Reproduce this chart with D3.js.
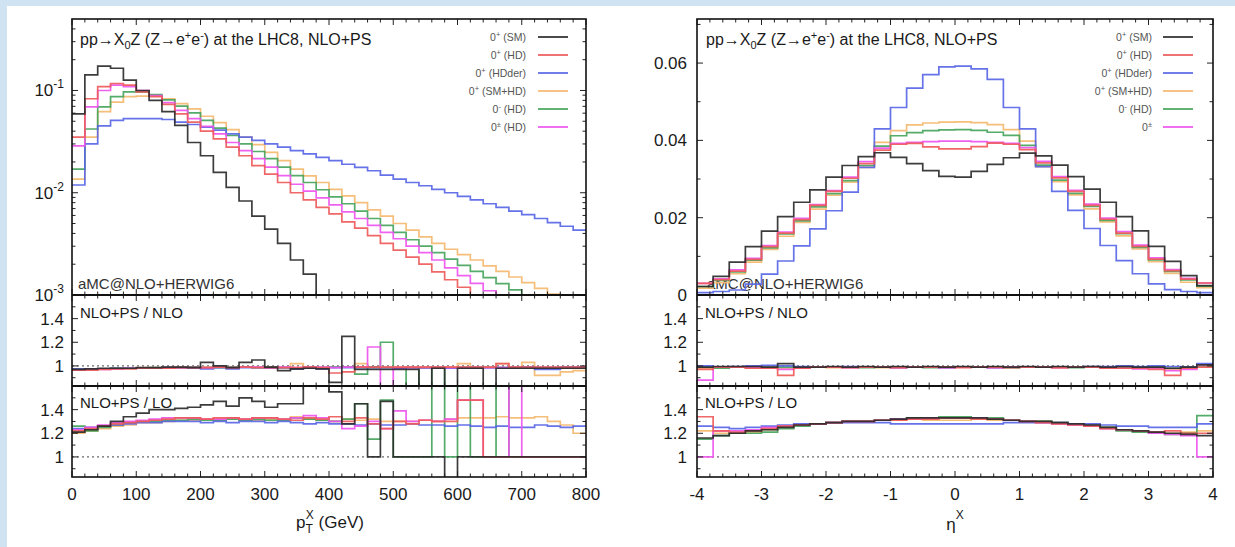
<!DOCTYPE html>
<html>
<head>
<meta charset="utf-8">
<script src="https://cdn.jsdelivr.net/npm/d3@7"></script>
<style>
  body { margin: 0; background: #fff; }
  svg { display: block; }
  text { font-family: "Liberation Sans", Arial, Helvetica, sans-serif; fill: #1a1a1a; }
</style>
</head>
<body>
<svg id="chart" width="1235" height="547"></svg>
<script>
// ---------- binning ----------
const ptEdges = d3.range(0, 820, 20);                        // GeV, 40 bins
const etaEdges = d3.range(0, 33).map(i => -4 + i * 0.25);    // 32 bins

// ---------- sample names / colours ----------
const seriesKeys = ["sm", "hd", "hdder", "smhd", "minus", "mixed"];
const seriesColors = {
  sm: "#2b2b2b", hd: "#ee5a5a", hdder: "#5866e6",
  smhd: "#f5b870", minus: "#46a45c", mixed: "#ee55ee"
};
const legendLeft  = [["0","+"," (SM)"],["0","+"," (HD)"],["0","+"," (HDder)"],["0","+"," (SM+HD)"],["0","-"," (HD)"],["0","±"," (HD)"]];
const legendRight = [["0","+"," (SM)"],["0","+"," (HD)"],["0","+"," (HDder)"],["0","+"," (SM+HD)"],["0","-"," (HD)"],["0","±",""]];
const drawOrder = ["smhd", "minus", "hdder", "mixed", "hd", "sm"];

// ---------- pT^X distribution (NLO+PS), per 20 GeV bin ----------
const ptSM    = [0.059,0.142,0.173,0.165,0.126,0.100,0.080,0.062,0.0455,0.031,0.023,0.0158,0.0113,0.0083,0.0059,0.0044,0.0032,0.0022,0.0016,0.00092,0.00070,0.00052,0.00040,0.00030,0.00022,0.00016,0.00012,0.00009,0.00007,0.00005,0.00004,0.00003,0.00002,0.000015,0.00001,0.000008,0.000006,0.000005,0.000004,0.000003];
const ptHD    = [0.035,0.083,0.109,0.117,0.113,0.097,0.087,0.073,0.059,0.049,0.040,0.0336,0.0279,0.023,0.0184,0.0152,0.0126,0.0100,0.0085,0.0072,0.0062,0.0052,0.0045,0.0038,0.0032,0.00275,0.00235,0.0020,0.00168,0.00141,0.00119,0.00098,0.00083,0.0007,0.0006,0.0005,0.00042,0.00035,0.0003,0.00025];
const ptHDder = [0.0119,0.030,0.045,0.051,0.053,0.053,0.053,0.052,0.049,0.0465,0.0437,0.0409,0.0376,0.035,0.0325,0.0301,0.0279,0.0258,0.024,0.0222,0.0206,0.019,0.0177,0.0164,0.0149,0.0136,0.0126,0.0117,0.0108,0.0100,0.0092,0.0085,0.0078,0.0072,0.0066,0.0061,0.0056,0.0051,0.0047,0.0043];
const ptSMHD  = [0.0136,0.035,0.062,0.077,0.087,0.088,0.0885,0.083,0.0745,0.066,0.056,0.0485,0.0415,0.035,0.0295,0.0248,0.0206,0.017,0.0146,0.0126,0.0108,0.0093,0.0080,0.0068,0.0059,0.0050,0.0043,0.0037,0.0032,0.0028,0.00248,0.0022,0.00193,0.0017,0.0015,0.00132,0.00116,0.00102,0.0009,0.0008];
const ptMinus = [0.017,0.042,0.069,0.087,0.097,0.097,0.091,0.081,0.0704,0.0605,0.051,0.0429,0.0363,0.030,0.0253,0.0216,0.0178,0.0147,0.0126,0.0107,0.0091,0.0078,0.0066,0.0056,0.0048,0.0041,0.00347,0.0030,0.0026,0.00224,0.00195,0.0017,0.00148,0.00129,0.00112,0.00098,0.00085,0.00074,0.00064,0.00056];
const ptMixed = [0.0287,0.069,0.100,0.113,0.109,0.100,0.089,0.076,0.064,0.053,0.0445,0.0376,0.031,0.0258,0.0216,0.0178,0.0147,0.0121,0.01035,0.0089,0.0076,0.0065,0.0056,0.0048,0.0041,0.00355,0.0030,0.0026,0.0022,0.00184,0.00155,0.0013,0.0011,0.00092,0.00077,0.00065,0.00055,0.00046,0.00039,0.00033];

// ---------- pT^X ratio NLO+PS / NLO ----------
const ptNloSM    = [0.97,0.975,0.98,0.98,0.98,0.985,0.985,0.99,0.99,0.985,1.03,1.00,0.985,1.03,1.05,0.99,0.96,0.975,0.98,0.975,0.86,1.25,0.97,0.97,0.97,0.97,0.97,0,0.98,0,0.98,0.98,0,0.98,0.98,0.98,0.98,0.98,0.98,0.98];
const ptNloHD    = [0.965,0.965,0.97,0.975,0.975,0.98,0.98,0.98,0.985,0.985,0.985,0.99,0.985,0.99,0.985,0.985,0.985,0.985,0.99,0.985,0.94,0.95,0.99,0.99,0.99,0.99,0.99,0.99,0.99,0.99,0.99,0.99,0.99,1.02,0.99,0.99,0.99,0.99,0.99,0.99];
const ptNloHDder = [0.975,0.975,0.975,0.98,0.98,0.98,0.98,0.985,0.985,0.985,0.975,0.985,0.975,0.985,0.985,0.98,0.985,0.975,0.98,0.975,0.985,0.985,0.985,0.985,0.985,0.98,0.985,0.985,0.985,0.98,0.985,0.985,0.985,0.985,0.985,0.99,0.97,0.97,0.99,0.99];
const ptNloSMHD  = [0.97,0.975,0.975,0.98,0.98,0.985,0.985,0.985,0.99,0.99,0.99,0.99,0.985,0.99,0.99,0.99,0.985,1.02,0.98,0.98,0.99,0.99,1.02,0.99,0.99,0.99,0.99,0.99,0.99,0.99,1.02,0.99,0.99,1.02,0.99,1.03,0.92,0.92,0.95,0.96];
const ptNloMinus = [0.97,0.97,0.975,0.98,0.98,0.98,0.985,0.985,0.985,0.99,0.985,0.985,0.99,0.99,0.985,0.99,0.985,0.975,0.99,0.985,0.99,0.99,0.93,0.99,1.20,0.98,0,0.98,0,0.98,0.985,0.985,0.985,0.985,0.985,0.985,0.985,0.985,0.985,0.985];
const ptNloMixed = [0.965,0.97,0.97,0.975,0.98,0.98,0.98,0.985,0.985,0.985,0.985,0.99,0.985,0.99,0.99,0.985,0.99,0.985,0.99,0.99,0.985,0.99,0.99,1.16,0,0.985,0.985,0.985,0.985,0.985,0.985,0.985,0.985,0.985,0.985,0.985,0.985,0.985,0.985,0.985];

// ---------- pT^X ratio NLO+PS / LO ----------
const ptLoSM    = [1.21,1.23,1.26,1.30,1.34,1.37,1.40,1.40,1.41,1.42,1.44,1.47,1.43,1.50,1.47,1.42,1.45,1.45,1.65,1.62,1.55,1.28,1.45,1.00,1.47,1.00,1.00,1.00,1.00,0.00,1.00,1.00,1.00,1.00,1.00,1.00,1.00,1.00,1.00,1.00];
const ptLoHD    = [1.22,1.24,1.26,1.28,1.29,1.30,1.31,1.32,1.33,1.33,1.32,1.33,1.33,1.32,1.33,1.33,1.32,1.31,1.33,1.32,1.34,1.30,1.33,1.28,1.24,1.30,1.28,1.31,1.30,1.30,1.48,1.48,1.00,1.00,1.00,1.00,1.00,1.00,1.00,1.00];
const ptLoHDder = [1.24,1.25,1.26,1.27,1.28,1.29,1.29,1.30,1.30,1.30,1.29,1.30,1.29,1.30,1.30,1.29,1.30,1.29,1.28,1.29,1.28,1.28,1.27,1.28,1.27,1.27,1.28,1.27,1.27,1.26,1.27,1.26,1.25,1.26,1.25,1.25,1.27,1.26,1.25,1.26];
const ptLoSMHD  = [1.20,1.22,1.24,1.26,1.27,1.29,1.29,1.30,1.31,1.31,1.32,1.31,1.32,1.31,1.31,1.32,1.31,1.34,1.32,1.31,1.30,1.32,1.31,1.32,1.30,1.30,1.30,1.31,1.30,1.32,1.33,1.33,1.33,1.34,1.33,1.33,1.34,1.30,1.27,1.20];
const ptLoMinus = [1.26,1.22,1.25,1.27,1.29,1.30,1.30,1.31,1.31,1.32,1.31,1.31,1.32,1.31,1.32,1.31,1.31,1.33,1.32,1.31,1.30,1.32,1.45,1.15,1.48,1.00,1.00,1.00,1.65,1.00,1.65,1.00,1.00,1.65,1.00,1.00,1.00,1.00,1.00,1.00];
const ptLoMixed = [1.23,1.25,1.27,1.29,1.30,1.31,1.32,1.33,1.33,1.33,1.32,1.32,1.33,1.32,1.33,1.33,1.32,1.33,1.35,1.33,1.30,1.24,1.26,1.30,1.24,1.39,1.30,1.31,1.30,1.32,1.48,1.48,1.00,1.00,1.65,1.00,1.00,1.00,1.00,1.00];

// ---------- eta^X distribution (NLO+PS), per 0.25 bin ----------
const etaSM    = [0.0022,0.0048,0.0085,0.0125,0.0165,0.0203,0.0240,0.0272,0.0305,0.0335,0.0358,0.0368,0.0356,0.0340,0.0322,0.0307,0.0305,0.0320,0.0338,0.0355,0.0367,0.0360,0.0336,0.0306,0.0274,0.0240,0.0203,0.0166,0.0126,0.0087,0.0050,0.0024];
const etaHD    = [0.0030,0.0040,0.0062,0.0092,0.0125,0.0160,0.0195,0.0232,0.0268,0.0302,0.0340,0.0375,0.0390,0.0392,0.0383,0.0378,0.0378,0.0384,0.0393,0.0390,0.0376,0.0342,0.0303,0.0268,0.0232,0.0196,0.0160,0.0126,0.0093,0.0063,0.0041,0.0031];
const etaHDder = [0.0006,0.0009,0.0013,0.0028,0.0054,0.0088,0.0127,0.0171,0.0218,0.0266,0.0330,0.0430,0.0485,0.0535,0.0570,0.0590,0.0592,0.0585,0.0558,0.0485,0.0430,0.0332,0.0268,0.0219,0.0172,0.0128,0.0089,0.0055,0.0029,0.0014,0.0009,0.0006];
const etaSMHD  = [0.0018,0.0032,0.0055,0.0085,0.0118,0.0152,0.0188,0.0222,0.0258,0.0292,0.0330,0.0395,0.0425,0.0440,0.0445,0.0447,0.0448,0.0446,0.0441,0.0428,0.0398,0.0332,0.0293,0.0259,0.0223,0.0189,0.0153,0.0119,0.0086,0.0056,0.0033,0.0019];
const etaMinus = [0.0022,0.0038,0.0060,0.0090,0.0122,0.0158,0.0192,0.0228,0.0262,0.0296,0.0335,0.0385,0.0412,0.0420,0.0425,0.0427,0.0428,0.0426,0.0421,0.0413,0.0387,0.0336,0.0297,0.0263,0.0229,0.0193,0.0159,0.0123,0.0091,0.0061,0.0039,0.0023];
const etaMixed = [0.0030,0.0042,0.0065,0.0095,0.0128,0.0163,0.0198,0.0234,0.0270,0.0305,0.0345,0.0380,0.0392,0.0395,0.0397,0.0398,0.0398,0.0397,0.0395,0.0392,0.0381,0.0346,0.0306,0.0271,0.0235,0.0199,0.0164,0.0129,0.0096,0.0066,0.0043,0.0031];

// ---------- eta^X ratio NLO+PS / NLO ----------
const etaNloSM    = [0.99,0.995,0.995,0.995,0.99,1.02,0.99,0.99,0.995,0.99,0.995,0.99,0.995,0.99,0.995,0.99,0.995,0.99,0.995,0.99,0.995,0.99,0.995,0.99,0.995,0.99,0.995,0.99,0.99,0.98,0.99,1.01];
const etaNloHD    = [0.97,0.99,0.99,0.98,0.98,0.92,0.98,0.99,0.99,0.985,0.99,0.99,0.985,0.99,0.99,0.99,0.985,0.99,0.99,0.985,0.99,0.99,0.985,0.99,0.99,0.98,0.98,0.98,0.97,0.92,0.98,0.99];
const etaNloHDder = [1.00,0.99,0.995,1.00,1.005,1.00,0.995,0.99,0.99,0.995,0.99,0.99,0.985,0.99,0.99,0.985,0.99,0.99,0.985,0.99,0.99,0.99,0.99,0.99,0.995,0.995,1.00,0.995,1.00,0.995,0.99,1.02];
const etaNloSMHD  = [0.98,0.99,0.99,0.98,0.99,0.98,0.99,0.99,0.985,0.99,0.99,0.985,0.99,0.99,0.99,0.985,0.99,0.99,0.985,0.99,0.99,0.99,0.985,0.99,0.99,0.985,0.99,0.98,0.99,0.97,0.99,1.00];
const etaNloMinus = [0.99,0.98,0.99,0.99,0.985,0.99,0.98,0.99,0.99,0.99,0.985,0.99,0.99,0.99,0.985,0.99,0.99,0.99,0.99,0.985,0.99,0.99,0.99,0.985,0.99,0.99,0.985,0.99,0.99,0.98,0.99,1.00];
const etaNloMixed = [0.88,0.99,0.99,0.99,0.98,0.97,0.98,0.99,0.99,0.985,0.99,0.99,0.985,0.99,0.99,0.985,0.99,0.99,0.985,0.99,0.99,0.99,0.985,0.99,0.99,0.985,0.98,0.975,0.98,0.96,0.97,1.01];

// ---------- eta^X ratio NLO+PS / LO ----------
const etaLoSM    = [1.16,1.18,1.20,1.22,1.23,1.25,1.27,1.28,1.29,1.30,1.30,1.31,1.32,1.33,1.33,1.33,1.33,1.33,1.32,1.31,1.30,1.30,1.29,1.28,1.27,1.25,1.23,1.22,1.21,1.20,1.19,1.18];
const etaLoHD    = [1.34,1.22,1.21,1.22,1.24,1.26,1.27,1.28,1.29,1.30,1.30,1.31,1.31,1.32,1.32,1.33,1.33,1.32,1.32,1.31,1.30,1.29,1.28,1.27,1.26,1.24,1.23,1.22,1.21,1.22,1.20,1.20];
const etaLoHDder = [1.26,1.25,1.24,1.25,1.26,1.27,1.28,1.28,1.29,1.29,1.29,1.29,1.28,1.28,1.28,1.28,1.28,1.28,1.28,1.29,1.29,1.29,1.29,1.28,1.28,1.27,1.26,1.26,1.25,1.25,1.25,1.28];
const etaLoSMHD  = [1.22,1.20,1.20,1.21,1.23,1.25,1.27,1.28,1.29,1.30,1.30,1.31,1.31,1.32,1.31,1.31,1.31,1.32,1.31,1.31,1.30,1.30,1.29,1.28,1.27,1.25,1.23,1.22,1.21,1.20,1.21,1.22];
const etaLoMinus = [1.15,1.18,1.20,1.20,1.21,1.24,1.26,1.28,1.29,1.30,1.30,1.31,1.32,1.33,1.33,1.34,1.34,1.33,1.33,1.31,1.30,1.30,1.29,1.28,1.27,1.25,1.22,1.21,1.20,1.19,1.20,1.35];
const etaLoMixed = [1.00,1.22,1.22,1.23,1.25,1.26,1.27,1.28,1.29,1.30,1.30,1.31,1.32,1.32,1.33,1.33,1.33,1.33,1.32,1.31,1.30,1.29,1.28,1.27,1.26,1.24,1.23,1.22,1.20,1.19,1.18,1.00];

// ---------- tick labels ----------
const ptTickLabels  = [0, 100, 200, 300, 400, 500, 600, 700, 800];
const etaTickLabels = [-4, -3, -2, -1, 0, 1, 2, 3, 4];
const logTickLabels = [["10","-1",0.1],["10","-2",0.01],["10","-3",0.001]];
const linTickLabels = [["0.06",0.06],["0.04",0.04],["0.02",0.02],["0",0]];
const ratioTickLabels = [["1.4",1.4],["1.2",1.2],["1",1.0]];

// ---------- layout ----------
const svg = d3.select("#chart");
const yMainTop = 19, yMainBot = 295, yNloBot = 386, yLoBot = 477;
const ratioDomain = [0.83, 1.6];

svg.append("rect").attr("width", 1235).attr("height", 547).attr("fill", "#ffffff");
svg.append("rect").attr("x", 0).attr("y", 0).attr("width", 7).attr("height", 547).attr("fill", "#cfe3f3");
svg.append("rect").attr("x", 0).attr("y", 0).attr("width", 1235).attr("height", 6).attr("fill", "#cfe3f3");

let clipCount = 0;
function stepPath(xs, ys, edges, vals) {
  const pts = vals.map((v, i) => [edges[i], v]);
  pts.push([edges[edges.length - 1], vals[vals.length - 1]]);
  return d3.line()
    .x(d => xs(d[0]))
    .y(d => { const y = ys(d[1]); return isFinite(y) ? y : ys.range()[0] + 50; })
    .curve(d3.curveStepAfter)(pts);
}

function drawSeries(xs, ys, edges, dataMap) {
  const id = "clip" + (clipCount++);
  const [xa, xb] = xs.range(), [ya, yb] = ys.range();
  svg.append("clipPath").attr("id", id).append("rect")
    .attr("x", xa).attr("y", Math.min(ya, yb)).attr("width", xb - xa).attr("height", Math.abs(ya - yb));
  const g = svg.append("g").attr("clip-path", `url(#${id})`);
  drawOrder.forEach(k => {
    g.append("path").attr("d", stepPath(xs, ys, edges, dataMap[k]))
      .attr("fill", "none").attr("stroke", seriesColors[k])
      .attr("stroke-width", 1.7).attr("stroke-opacity", 0.92)
      .attr("stroke-linejoin", "miter");
  });
}

function ticks(xs, ys, xMaj, xMin, yMaj, yMin) {
  const g = svg.append("g").attr("stroke", "#222").attr("stroke-width", 1);
  const [xa, xb] = xs.range(), [yb, ya] = ys.range(); // yb bottom, ya top
  const L = 6, l = 3.5;
  xMaj.forEach(v => { const x = xs(v);
    g.append("line").attr("x1", x).attr("x2", x).attr("y1", yb).attr("y2", yb - L);
    g.append("line").attr("x1", x).attr("x2", x).attr("y1", ya).attr("y2", ya + L); });
  xMin.forEach(v => { const x = xs(v);
    g.append("line").attr("x1", x).attr("x2", x).attr("y1", yb).attr("y2", yb - l);
    g.append("line").attr("x1", x).attr("x2", x).attr("y1", ya).attr("y2", ya + l); });
  yMaj.forEach(v => { const y = ys(v);
    g.append("line").attr("x1", xa).attr("x2", xa + L).attr("y1", y).attr("y2", y);
    g.append("line").attr("x1", xb).attr("x2", xb - L).attr("y1", y).attr("y2", y); });
  yMin.forEach(v => { const y = ys(v);
    g.append("line").attr("x1", xa).attr("x2", xa + l).attr("y1", y).attr("y2", y);
    g.append("line").attr("x1", xb).attr("x2", xb - l).attr("y1", y).attr("y2", y); });
}

function unitLine(xs, ys) {
  svg.append("line").attr("x1", xs.range()[0]).attr("x2", xs.range()[1])
    .attr("y1", ys(1)).attr("y2", ys(1))
    .attr("stroke", "#444").attr("stroke-width", 1).attr("stroke-dasharray", "2,3");
}

function frame(x0, x1) {
  svg.append("rect").attr("x", x0).attr("y", yMainTop).attr("width", x1 - x0).attr("height", yLoBot - yMainTop)
    .attr("fill", "none").attr("stroke", "#111").attr("stroke-width", 1.6);
  [yMainBot, yNloBot].forEach(y => svg.append("line").attr("x1", x0).attr("x2", x1)
    .attr("y1", y).attr("y2", y).attr("stroke", "#111").attr("stroke-width", 2.2));
}

function title(x) {
  const t = svg.append("text").attr("x", x).attr("y", 45).attr("font-size", 16);
  t.append("tspan").text("pp→X");
  t.append("tspan").attr("font-size", 11).attr("dy", 4).text("0");
  t.append("tspan").attr("dy", -4).text("Z (Z→e");
  t.append("tspan").attr("font-size", 11).attr("dy", -6).text("+");
  t.append("tspan").attr("dy", 6).text("e");
  t.append("tspan").attr("font-size", 11).attr("dy", -6).text("-");
  t.append("tspan").attr("dy", 6).text(") at the LHC8, NLO+PS");
}

function legend(xText, xLine0, xLine1, entries) {
  const rows = [37, 55, 73, 91, 109, 127];
  entries.forEach((e, i) => {
    const k = seriesKeys[i];
    const t = svg.append("text").attr("x", xText).attr("y", rows[i] + 3.5)
      .attr("font-size", 10.5).attr("text-anchor", "end").style("fill", "#555");
    t.append("tspan").text(e[0]);
    t.append("tspan").attr("font-size", 7.5).attr("dy", -4).text(e[1]);
    t.append("tspan").attr("dy", 4).text(e[2]);
    svg.append("line").attr("x1", xLine0).attr("x2", xLine1).attr("y1", rows[i]).attr("y2", rows[i])
      .attr("stroke", seriesColors[k]).attr("stroke-width", 1.7);
  });
}

function textAt(x, y, s, size, anchor) {
  return svg.append("text").attr("x", x).attr("y", y).attr("font-size", size)
    .attr("text-anchor", anchor || "start").text(s);
}

function ratioLabels(xRight, ys) {
  ratioTickLabels.forEach(([s, v]) => textAt(xRight, ys(v) + 6, s, 17, "end"));
}

// ================= left: pT^X =================
{
  const x0 = 72, x1 = 586;
  const xs = d3.scaleLinear().domain([0, 800]).range([x0, x1]);
  const ysMain = d3.scaleLog().domain([0.001, 0.5]).range([yMainBot, yMainTop]);
  const ysNlo = d3.scaleLinear().domain(ratioDomain).range([yNloBot, yMainBot]);
  const ysLo = d3.scaleLinear().domain(ratioDomain).range([yLoBot, yNloBot]);

  textAt(x0 + 6, 289, "aMC@NLO+HERWIG6", 15).style("fill", "#333");
  drawSeries(xs, ysMain, ptEdges, {sm: ptSM, hd: ptHD, hdder: ptHDder, smhd: ptSMHD, minus: ptMinus, mixed: ptMixed});
  unitLine(xs, ysNlo);
  drawSeries(xs, ysNlo, ptEdges, {sm: ptNloSM, hd: ptNloHD, hdder: ptNloHDder, smhd: ptNloSMHD, minus: ptNloMinus, mixed: ptNloMixed});
  unitLine(xs, ysLo);
  drawSeries(xs, ysLo, ptEdges, {sm: ptLoSM, hd: ptLoHD, hdder: ptLoHDder, smhd: ptLoSMHD, minus: ptLoMinus, mixed: ptLoMixed});

  const xMaj = ptTickLabels, xMin = d3.range(20, 800, 20).filter(v => v % 100);
  const logMin = [];
  [-3, -2, -1].forEach(d => d3.range(2, 10).forEach(k => { const v = k * Math.pow(10, d); if (v < 0.5) logMin.push(v); }));
  ticks(xs, ysMain, xMaj, xMin, [0.001, 0.01, 0.1], logMin);
  ticks(xs, ysNlo, xMaj, xMin, [1.0, 1.2, 1.4], [0.9, 1.1, 1.3, 1.5]);
  ticks(xs, ysLo, xMaj, xMin, [1.0, 1.2, 1.4], [0.9, 1.1, 1.3, 1.5]);
  frame(x0, x1);

  title(x0 + 8);
  legend(526, 538, 568, legendLeft);
  textAt(x0 + 8, 318, "NLO+PS / NLO", 15);
  textAt(x0 + 8, 408, "NLO+PS / LO", 15);

  logTickLabels.forEach(([b, e, v]) => {
    const t = svg.append("text").attr("x", 64).attr("y", ysMain(v) + 6).attr("font-size", 17).attr("text-anchor", "end");
    t.append("tspan").text(b);
    t.append("tspan").attr("font-size", 12).attr("dy", -8).text(e);
  });
  ratioLabels(64, ysNlo);
  ratioLabels(64, ysLo);
  ptTickLabels.forEach(v => textAt(xs(v), 500, String(v), 17, "middle"));

  const xt = svg.append("text").attr("x", 330).attr("y", 528).attr("font-size", 17).attr("text-anchor", "middle");
  xt.append("tspan").text("p");
  xt.append("tspan").attr("font-size", 12).attr("dy", 5).text("T");
  xt.append("tspan").attr("font-size", 12).attr("dx", -7).attr("dy", -14).text("X");
  xt.append("tspan").attr("dy", 9).text(" (GeV)");
}

// ================= right: eta^X =================
{
  const x0 = 697, x1 = 1213;
  const xs = d3.scaleLinear().domain([-4, 4]).range([x0, x1]);
  const ysMain = d3.scaleLinear().domain([0, 0.0714]).range([yMainBot, yMainTop]);
  const ysNlo = d3.scaleLinear().domain(ratioDomain).range([yNloBot, yMainBot]);
  const ysLo = d3.scaleLinear().domain(ratioDomain).range([yLoBot, yNloBot]);

  textAt(x0 + 10, 289, "aMC@NLO+HERWIG6", 15).style("fill", "#333");
  drawSeries(xs, ysMain, etaEdges, {sm: etaSM, hd: etaHD, hdder: etaHDder, smhd: etaSMHD, minus: etaMinus, mixed: etaMixed});
  unitLine(xs, ysNlo);
  drawSeries(xs, ysNlo, etaEdges, {sm: etaNloSM, hd: etaNloHD, hdder: etaNloHDder, smhd: etaNloSMHD, minus: etaNloMinus, mixed: etaNloMixed});
  unitLine(xs, ysLo);
  drawSeries(xs, ysLo, etaEdges, {sm: etaLoSM, hd: etaLoHD, hdder: etaLoHDder, smhd: etaLoSMHD, minus: etaLoMinus, mixed: etaLoMixed});

  const xMaj = etaTickLabels, xMin = d3.range(-40, 40, 2).filter(v => v % 10).map(v => v / 10);
  ticks(xs, ysMain, xMaj, xMin, [0, 0.02, 0.04, 0.06], [0.01, 0.03, 0.05, 0.07]);
  ticks(xs, ysNlo, xMaj, xMin, [1.0, 1.2, 1.4], [0.9, 1.1, 1.3, 1.5]);
  ticks(xs, ysLo, xMaj, xMin, [1.0, 1.2, 1.4], [0.9, 1.1, 1.3, 1.5]);
  frame(x0, x1);

  title(x0 + 9);
  legend(1152, 1163, 1193, legendRight);
  textAt(x0 + 8, 318, "NLO+PS / NLO", 15);
  textAt(x0 + 8, 408, "NLO+PS / LO", 15);

  linTickLabels.forEach(([s, v]) => textAt(687, ysMain(v) + 6, s, 17, "end"));
  ratioLabels(687, ysNlo);
  ratioLabels(687, ysLo);
  etaTickLabels.forEach(v => textAt(xs(v), 500, String(v), 17, "middle"));

  const xt = svg.append("text").attr("x", 955).attr("y", 530).attr("font-size", 17).attr("text-anchor", "middle");
  xt.append("tspan").text("η");
  xt.append("tspan").attr("font-size", 12).attr("dy", -11).text("X");
}
</script>
</body>
</html>
